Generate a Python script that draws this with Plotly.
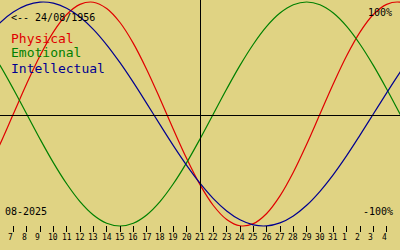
import plotly.graph_objects as go

# ---- data ----
days = list(range(5, 38))  # day positions (Aug 5 .. Sep 6 as running day numbers)
physical = [-0.520, -0.270, 0.000, 0.270, 0.520, 0.731, 0.888, 0.979, 0.998, 0.942,
            0.817, 0.631, 0.398, 0.136, -0.136, -0.398, -0.631, -0.817, -0.942, -0.998,
            -0.979, -0.888, -0.731, -0.520, -0.270, 0.000, 0.270, 0.520, 0.731, 0.888,
            0.979, 0.998, 0.942]
emotional = [0.623, 0.434, 0.223, 0.000, -0.223, -0.434, -0.623, -0.782, -0.901, -0.975,
             -1.000, -0.975, -0.901, -0.782, -0.623, -0.434, -0.223, 0.000, 0.223, 0.434,
             0.623, 0.782, 0.901, 0.975, 1.000, 0.975, 0.901, 0.782, 0.623, 0.434,
             0.223, 0.000, -0.223]
intellectual = [0.690, 0.815, 0.910, 0.972, 0.999, 0.990, 0.945, 0.866, 0.756, 0.618,
                0.458, 0.282, 0.095, -0.095, -0.282, -0.458, -0.618, -0.756, -0.866, -0.945,
                -0.990, -0.999, -0.972, -0.910, -0.815, -0.690, -0.541, -0.372, -0.189, 0.000,
                0.189, 0.372, 0.541]

tick_days = list(range(7, 36))
tick_labels = [str(d) for d in range(7, 32)] + ["1", "2", "3", "4"]
today = 21
birth_label = "<-- 24/08/1956"
month_label = "08-2025"
series_names = ["Physical", "Emotional", "Intellectual"]

# ---- style ----
BG = "rgb(224,211,131)"
COLORS = ["#e00000", "#008000", "#000090"]
FONT = "DejaVu Sans Mono"
W, H = 400, 250
X0, X1 = 6, 36
HALF_PX = 0.5 * (X1 - X0) / W


def py(pix):
    return 1 - pix / H


fig = go.Figure()
for name, vals, col in zip(series_names, [physical, emotional, intellectual], COLORS):
    fig.add_trace(go.Scatter(x=days, y=vals, mode="lines", name=name,
                             line=dict(color=col, width=1.2, shape="spline", smoothing=1.0),
                             hoverinfo="skip", showlegend=False))

shapes = [
    dict(type="line", xref="paper", yref="paper", x0=0, x1=1, y0=py(115.5), y1=py(115.5),
         line=dict(color="black", width=1)),
    dict(type="line", xref="x", yref="paper", x0=today + HALF_PX, x1=today + HALF_PX,
         y0=py(231), y1=1, line=dict(color="black", width=1)),
]

annotations = []
for d, lab in zip(tick_days, tick_labels):
    annotations.append(dict(x=d, y=py(237.5), xref="x", yref="paper", text=lab,
                            showarrow=False, xanchor="left", yanchor="middle",
                            xshift=-6, font=dict(family=FONT, size=8, color="black"),
                            borderpad=0))

annotations += [
    dict(x=10 / W, y=py(17), text=birth_label, xanchor="left",
         font=dict(family=FONT, size=10, color="black")),
    dict(x=393 / W, y=py(12.5), text="100%", xanchor="right",
         font=dict(family=FONT, size=10, color="black")),
    dict(x=394 / W, y=py(211.5), text="-100%", xanchor="right",
         font=dict(family=FONT, size=10, color="black")),
    dict(x=4 / W, y=py(211), text=month_label, xanchor="left",
         font=dict(family=FONT, size=10, color="black")),
]
for i, (name, col) in enumerate(zip(series_names, COLORS)):
    annotations.append(dict(x=10 / W, y=py(38 + 15 * i), text=name, xanchor="left",
                            font=dict(family=FONT, size=13, color=col)))
for a in annotations[len(tick_days):]:
    a.update(xref="paper", yref="paper", showarrow=False, yanchor="middle", borderpad=0)

fig.update_layout(
    width=W, height=H, margin=dict(l=0, r=0, t=0, b=0),
    paper_bgcolor=BG, plot_bgcolor=BG,
    shapes=shapes, annotations=annotations,
    xaxis=dict(range=[X0, X1], showgrid=False, zeroline=False, showline=False,
               tickvals=tick_days, ticks="outside", ticklen=6, tickwidth=1,
               tickcolor="black", showticklabels=False,
               anchor="free", position=py(225), fixedrange=True),
    yaxis=dict(range=[(114 - H) / 112, 114 / 112], visible=False, fixedrange=True,
               domain=[0, 1]),
)

fig.write_html("out.html", config={"displayModeBar": False})
